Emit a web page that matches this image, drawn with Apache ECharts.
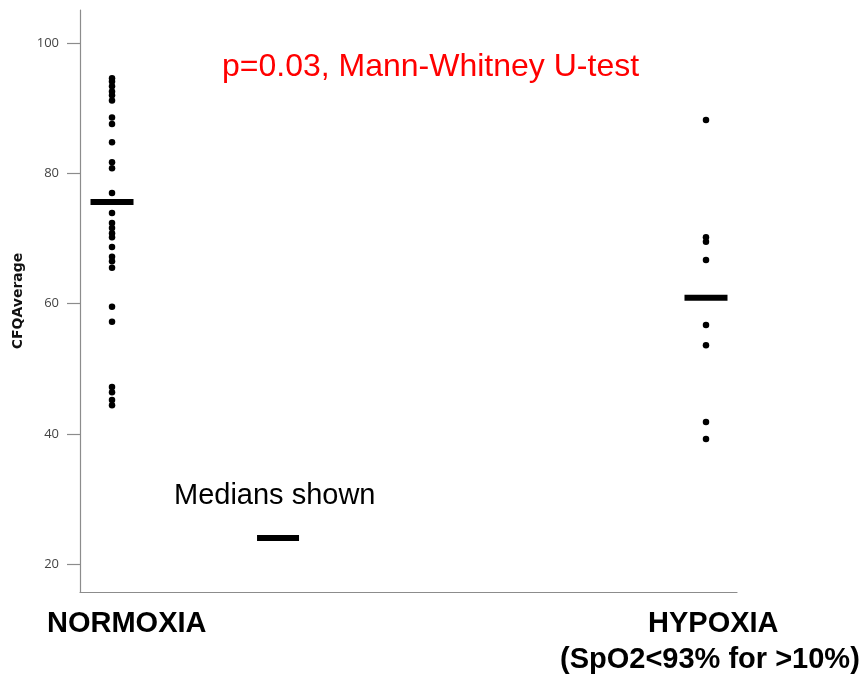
<!DOCTYPE html>
<html>
<head>
<meta charset="utf-8">
<script src="https://cdn.jsdelivr.net/npm/echarts@6/dist/echarts.min.js"></script>
<style>html,body{margin:0;padding:0;background:#fff}#c{width:866px;height:677px}</style>
</head>
<body>
<div id="c"></div>
<script>
const categories = ['NORMOXIA', 'HYPOXIA'];
const subtitle = '(SpO2<93% for >10%)';
const normoxia = [94.6, 94.1, 93.4, 92.6, 92.0, 91.2, 88.6, 87.6, 84.8, 81.7, 80.8, 77.0,
  73.9, 72.4, 71.6, 70.8, 70.2, 68.7, 67.2, 66.5, 65.5, 59.5, 57.2, 47.2, 46.4, 45.2, 44.4];
const hypoxia = [88.2, 70.2, 69.5, 66.7, 56.7, 53.6, 41.8, 39.2];
const medians = [75.6, 60.9];
const legendMedian = 24.0;
const yTicks = [20, 40, 60, 80, 100];
const yName = 'CFQAverage';
const annotation = 'p=0.03, Mann-Whitney U-test';
const legendText = 'Medians shown';

const groups = [normoxia, hypoxia];
const dotData = [];
groups.forEach((vals, gi) => vals.forEach(v => dotData.push([gi, v])));
const medianData = medians.map((m, gi) => [gi, m]);

const chart = echarts.init(document.getElementById('c'));
chart.setOption({
  animation: false,
  backgroundColor: '#fff',
  grid: { left: 80, right: 129, top: 10, bottom: 85 },
  xAxis: {
    type: 'value', min: -0.0539, max: 1.0522,
    axisLine: { show: true, onZero: false, lineStyle: { color: '#8c8c8c', width: 1.2 } },
    axisTick: { show: false }, axisLabel: { show: false }, splitLine: { show: false }
  },
  yAxis: {
    type: 'value', min: 15.7, max: 105.1,
    name: yName, nameLocation: 'middle', nameGap: 52,
    nameTextStyle: { fontFamily: 'DejaVu Sans', fontWeight: 'bold', fontSize: 14, color: '#111' },
    axisLine: { show: true, onZero: false, lineStyle: { color: '#8c8c8c', width: 1.2 } },
    axisTick: { show: true, length: 13, customValues: yTicks, lineStyle: { color: '#8c8c8c', width: 1.2 } },
    axisLabel: { customValues: yTicks, margin: 21, fontFamily: 'Open Sans', fontSize: 13, color: '#444' },
    splitLine: { show: false }
  },
  series: [
    { type: 'scatter', data: dotData, symbol: 'circle', symbolSize: 6.5, itemStyle: { color: '#000', opacity: 1 } },
    { type: 'scatter', data: medianData, symbol: 'rect', symbolSize: [43, 6], itemStyle: { color: '#000', opacity: 1 } },
    { type: 'scatter', data: [[0.2795, legendMedian]], symbol: 'rect', symbolSize: [42, 6], itemStyle: { color: '#000', opacity: 1 } }
  ],
  graphic: [
    { type: 'text', left: 222, top: 51, style: { text: annotation, fill: '#ff0000', font: '32px "Liberation Sans", Arial, sans-serif' } },
    { type: 'text', left: 174, top: 481, style: { text: legendText, fill: '#000', font: '29px "Liberation Sans", Arial, sans-serif' } },
    { type: 'text', left: 47, top: 609, style: { text: categories[0], fill: '#000', font: 'bold 29px "Liberation Sans", Arial, sans-serif' } },
    { type: 'text', left: 648, top: 609, style: { text: categories[1], fill: '#000', font: 'bold 29px "Liberation Sans", Arial, sans-serif' } },
    { type: 'text', left: 560, top: 645, style: { text: subtitle, fill: '#000', font: 'bold 29px "Liberation Sans", Arial, sans-serif' } }
  ]
});
</script>
</body>
</html>
